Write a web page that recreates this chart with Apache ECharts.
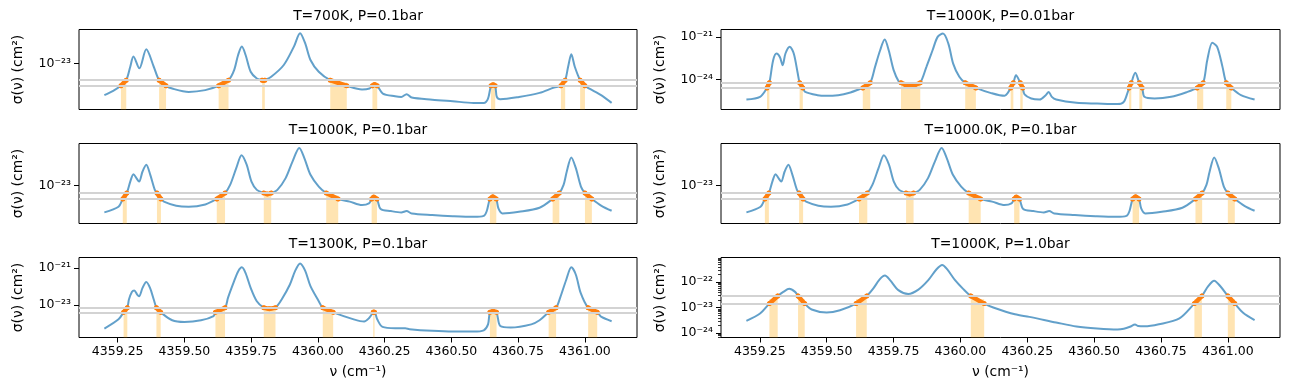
<!DOCTYPE html>
<html>
<head>
<meta charset="utf-8">
<script src="https://cdn.jsdelivr.net/npm/echarts@6/dist/echarts.min.js"></script>
<style>
html,body{margin:0;padding:0;background:#fff;}
#chart{width:1289px;height:390px;}
</style>
</head>
<body>
<div id="chart"></div>
<script>
// ---------------- data ----------------
const TITLES = ['T=700K, P=0.1bar', 'T=1000K, P=0.01bar', 'T=1000K, P=0.1bar',
                'T=1000.0K, P=0.1bar', 'T=1300K, P=0.1bar', 'T=1000K, P=1.0bar'];
const X_TICKS = [4359.25, 4359.50, 4359.75, 4360.00, 4360.25, 4360.50, 4360.75, 4361.00];
const X_RANGE = [4359.105, 4361.195];
const X_LABEL = 'ν (cm⁻¹)';
const Y_LABEL = 'σ(ν) (cm²)';

// Panel 1: T=700K, P=0.1bar  (log10 sigma)
const P1_NU = [4359.200,4359.233,4359.262,4359.282,4359.297,4359.309,4359.331,4359.357,4359.385,4359.405,
  4359.431,4359.454,4359.516,4359.578,4359.628,4359.665,4359.686,4359.701,4359.715,4359.729,
  4359.748,4359.771,4359.791,4359.796,4359.801,4359.825,4359.872,4359.910,4359.933,4359.952,
  4359.972,4360.003,4360.046,4360.108,4360.165,4360.193,4360.204,4360.212,4360.222,4360.243,
  4360.289,4360.312,4360.332,4360.351,4360.428,4360.505,4360.583,4360.621,4360.637,4360.648,
  4360.656,4360.664,4360.670,4360.683,4360.753,4360.830,4360.884,4360.910,4360.926,4360.937,
  4360.949,4360.962,4360.982,4361.000,4361.015,4361.062,4361.100];
const P1_LOGSIGMA = [-24.97,-24.70,-24.39,-24.04,-23.21,-22.58,-23.31,-22.13,-23.21,-24.04,
  -24.39,-24.56,-24.77,-24.66,-24.39,-24.04,-23.42,-22.48,-21.96,-22.48,
  -23.52,-23.94,-24.04,-24.06,-24.04,-23.83,-23.10,-21.96,-21.13,-21.75,
  -22.79,-23.52,-24.04,-24.39,-24.62,-24.56,-24.39,-24.31,-24.39,-24.87,
  -25.04,-25.08,-24.91,-25.12,-25.25,-25.35,-25.45,-25.45,-25.18,-24.39,
  -24.33,-24.39,-25.08,-25.22,-25.08,-24.83,-24.50,-24.39,-24.04,-23.21,
  -22.44,-23.21,-24.04,-24.39,-24.55,-24.98,-25.45];
const P1_BANDS = [[4359.262,4359.282],[4359.405,4359.431],[4359.628,4359.665],[4359.791,4359.801],
  [4360.046,4360.108],[4360.204,4360.222],[4360.648,4360.664],[4360.910,4360.926],[4360.982,4361.000]];
const P1_LIMITS = [-24.04, -24.39];
const P1_YRANGE = [-25.86, -20.90];
const P1_YTICKS = [-23];

// Panel 2: T=1000K, P=0.01bar
const P2_NU = [4359.200,4359.251,4359.277,4359.286,4359.300,4359.3125,4359.325,4359.3355,4359.346,4359.362,
  4359.377,4359.392,4359.399,4359.411,4359.420,4359.466,4359.497,4359.543,4359.589,4359.620,
  4359.635,4359.663,4359.681,4359.700,4359.717,4359.732,4359.7505,4359.770,4359.778,4359.795,
  4359.812,4359.830,4359.850,4359.873,4359.896,4359.915,4359.935,4359.955,4359.973,4359.996,
  4360.018,4360.058,4360.112,4360.165,4360.176,4360.188,4360.198,4360.208,4360.224,4360.233,
  4360.240,4360.265,4360.296,4360.319,4360.330,4360.342,4360.358,4360.434,4360.511,4360.588,
  4360.611,4360.626,4360.631,4360.639,4360.654,4360.669,4360.680,4360.688,4360.726,4360.788,
  4360.849,4360.885,4360.908,4360.923,4360.942,4360.960,4360.980,4360.994,4361.013,4361.049,
  4361.100];
const P2_LOGSIGMA = [-25.41,-25.22,-24.59,-24.23,-22.64,-22.17,-22.41,-22.99,-22.17,-21.70,
  -22.17,-23.58,-24.23,-24.59,-24.87,-25.10,-25.15,-25.10,-24.91,-24.70,
  -24.59,-24.23,-23.11,-21.94,-21.19,-21.94,-23.34,-24.16,-24.23,-24.36,
  -24.40,-24.36,-24.23,-23.11,-21.94,-21.00,-20.77,-21.47,-22.88,-23.81,
  -24.23,-24.59,-24.94,-25.15,-24.98,-24.59,-24.23,-23.70,-24.23,-24.59,
  -25.05,-25.34,-25.41,-25.10,-24.87,-25.22,-25.41,-25.64,-25.69,-25.73,
  -25.57,-24.87,-24.59,-24.23,-23.53,-24.23,-24.59,-25.22,-25.34,-25.22,
  -24.87,-24.59,-24.23,-22.64,-21.42,-21.70,-23.11,-24.23,-24.59,-25.10,
  -25.41];
const P2_BANDS = [[4359.277,4359.286],[4359.399,4359.411],[4359.635,4359.663],[4359.778,4359.850],
  [4360.018,4360.058],[4360.188,4360.198],[4360.224,4360.233],[4360.631,4360.639],[4360.669,4360.680],
  [4360.885,4360.908],[4360.994,4361.013]];
const P2_LIMITS = [-24.23, -24.59];
const P2_YRANGE = [-26.11, -20.48];
const P2_YTICKS = [-24, -21];

// Panel 3 and 4: T=1000K, P=0.1bar (identical curves)
const P3_NU = [4359.200,4359.253,4359.269,4359.284,4359.297,4359.309,4359.320,4359.330,4359.343,4359.357,
  4359.372,4359.389,4359.397,4359.412,4359.423,4359.469,4359.516,4359.578,4359.621,4359.652,
  4359.671,4359.694,4359.714,4359.733,4359.751,4359.771,4359.797,4359.810,4359.825,4359.848,
  4359.879,4359.905,4359.930,4359.949,4359.972,4360.003,4360.031,4360.076,4360.119,4360.165,
  4360.191,4360.201,4360.209,4360.221,4360.235,4360.273,4360.312,4360.332,4360.351,4360.428,
  4360.505,4360.583,4360.621,4360.632,4360.644,4360.655,4360.668,4360.676,4360.691,4360.753,
  4360.830,4360.879,4360.904,4360.920,4360.932,4360.949,4360.966,4360.985,4361.000,4361.026,
  4361.062,4361.100];
const P3_LOGSIGMA = [-24.62,-24.28,-23.81,-23.45,-22.76,-22.31,-22.55,-22.76,-22.15,-21.74,
  -22.35,-23.26,-23.45,-23.81,-23.97,-24.22,-24.28,-24.14,-23.81,-23.45,
  -22.96,-21.95,-21.17,-21.74,-22.76,-23.26,-23.45,-23.51,-23.45,-23.26,
  -22.55,-21.54,-20.73,-21.34,-22.35,-23.06,-23.45,-23.81,-23.97,-24.18,
  -24.08,-23.81,-23.69,-23.81,-24.42,-24.54,-24.62,-24.54,-24.68,-24.78,
  -24.85,-24.89,-24.83,-24.55,-23.81,-23.67,-23.81,-24.38,-24.68,-24.58,
  -24.34,-23.81,-23.45,-22.96,-22.15,-21.30,-21.95,-23.06,-23.45,-23.81,
  -24.22,-24.52];
const P3_BANDS = [[4359.269,4359.284],[4359.397,4359.412],[4359.621,4359.652],[4359.797,4359.825],
  [4360.031,4360.076],[4360.201,4360.221],[4360.644,4360.668],[4360.879,4360.904],[4361.000,4361.026]];
const P3_LIMITS = [-23.45, -23.81];
const P3_YRANGE = [-25.29, -20.46];
const P3_YTICKS = [-23];

// Panel 5: T=1300K, P=0.1bar
const P5_NU = [4359.200,4359.253,4359.272,4359.286,4359.292,4359.303,4359.312,4359.323,4359.330,4359.343,
  4359.357,4359.371,4359.385,4359.395,4359.411,4359.454,4359.500,4359.562,4359.609,4359.616,
  4359.652,4359.663,4359.686,4359.701,4359.715,4359.729,4359.748,4359.771,4359.797,4359.818,
  4359.841,4359.864,4359.895,4359.915,4359.933,4359.952,4359.972,4360.003,4360.018,4360.057,
  4360.134,4360.173,4360.191,4360.207,4360.209,4360.212,4360.222,4360.242,4360.289,4360.327,
  4360.343,4360.428,4360.505,4360.583,4360.621,4360.637,4360.644,4360.656,4360.669,4360.683,
  4360.722,4360.799,4360.830,4360.864,4360.892,4360.907,4360.930,4360.949,4360.966,4360.984,
  4361.012,4361.046,4361.062,4361.100];
const P5_LOGSIGMA = [-24.27,-23.77,-23.39,-23.14,-22.70,-22.29,-22.21,-22.43,-22.52,-22.07,
  -21.75,-22.07,-22.70,-23.14,-23.39,-23.82,-23.91,-23.82,-23.59,-23.39,
  -23.14,-22.61,-21.71,-21.18,-20.96,-21.27,-22.07,-22.79,-23.14,-23.20,
  -23.14,-22.70,-21.89,-21.14,-20.75,-21.14,-21.98,-22.79,-23.14,-23.39,
  -23.77,-23.89,-23.71,-23.39,-23.37,-23.39,-23.77,-24.18,-24.25,-24.25,
  -24.30,-24.39,-24.43,-24.43,-24.36,-24.04,-23.39,-23.33,-23.39,-24.13,
  -24.21,-24.04,-23.82,-23.39,-23.14,-22.61,-21.63,-20.96,-21.36,-22.34,
  -23.14,-23.39,-23.64,-23.87];
const P5_BANDS = [[4359.272,4359.286],[4359.395,4359.411],[4359.616,4359.652],[4359.797,4359.841],
  [4360.018,4360.057],[4360.207,4360.212],[4360.644,4360.669],[4360.864,4360.892],[4361.012,4361.046]];
const P5_LIMITS = [-23.14, -23.39];
const P5_YRANGE = [-24.75, -20.43];
const P5_YTICKS = [-23, -21];

// Panel 6: T=1000K, P=1.0bar
const P6_NU = [4359.200,4359.251,4359.286,4359.317,4359.338,4359.360,4359.382,4359.393,4359.418,4359.444,
  4359.500,4359.550,4359.610,4359.650,4359.674,4359.699,4359.718,4359.737,4359.768,4359.805,
  4359.843,4359.880,4359.911,4359.932,4359.951,4359.980,4360.011,4360.039,4360.089,4360.123,
  4360.204,4360.258,4360.358,4360.434,4360.511,4360.588,4360.611,4360.634,4360.653,4360.665,
  4360.688,4360.742,4360.819,4360.875,4360.903,4360.926,4360.949,4360.972,4361.000,4361.026,
  4361.057,4361.100];
const P6_LOGSIGMA = [-23.52,-23.23,-22.84,-22.54,-22.38,-22.26,-22.38,-22.54,-22.84,-23.07,
  -23.19,-23.10,-22.84,-22.54,-22.25,-21.88,-21.74,-21.92,-22.31,-22.46,
  -22.29,-21.92,-21.49,-21.32,-21.50,-21.92,-22.27,-22.54,-22.84,-22.99,
  -23.26,-23.36,-23.58,-23.74,-23.82,-23.86,-23.83,-23.75,-23.66,-23.72,
  -23.73,-23.65,-23.42,-22.84,-22.54,-22.16,-21.94,-22.16,-22.54,-22.84,
  -23.20,-23.49];
const P6_BANDS = [[4359.286,4359.317],[4359.393,4359.418],[4359.610,4359.650],[4360.039,4360.089],
  [4360.875,4360.903],[4361.000,4361.026]];
const P6_LIMITS = [-22.54, -22.84];
const P6_YRANGE = [-24.17, -21.03];
const P6_YTICKS = [-24, -23, -22];
const P6_MINOR_MANTISSA = [2, 3, 4, 5, 6, 7, 8, 9];

// ---------------- chart assembly ----------------
const PANELS = [
  {nu: P1_NU, ls: P1_LOGSIGMA, bands: P1_BANDS, lim: P1_LIMITS, yr: P1_YRANGE, yt: P1_YTICKS},
  {nu: P2_NU, ls: P2_LOGSIGMA, bands: P2_BANDS, lim: P2_LIMITS, yr: P2_YRANGE, yt: P2_YTICKS},
  {nu: P3_NU, ls: P3_LOGSIGMA, bands: P3_BANDS, lim: P3_LIMITS, yr: P3_YRANGE, yt: P3_YTICKS},
  {nu: P3_NU, ls: P3_LOGSIGMA, bands: P3_BANDS, lim: P3_LIMITS, yr: P3_YRANGE, yt: P3_YTICKS},
  {nu: P5_NU, ls: P5_LOGSIGMA, bands: P5_BANDS, lim: P5_LIMITS, yr: P5_YRANGE, yt: P5_YTICKS},
  {nu: P6_NU, ls: P6_LOGSIGMA, bands: P6_BANDS, lim: P6_LIMITS, yr: P6_YRANGE, yt: P6_YTICKS, minor: true}
];

const COL_LEFT = [79, 721];
const COL_WIDTH = [558, 559];
const ROW_TOP = [29.5, 143.5, 257.5];
const GRID_H = 80;
const FONT = 'DejaVu Sans';

const SUP = {'-': '⁻', '0': '⁰', '1': '¹', '2': '²', '3': '³', '4': '⁴', '5': '⁵', '6': '⁶', '7': '⁷', '8': '⁸', '9': '⁹'};
function powLabel(v) {
  return '10' + String(Math.round(v)).split('').map(c => SUP[c]).join('');
}

const grids = [], xAxes = [], yAxes = [], series = [], graphics = [];

PANELS.forEach((p, i) => {
  const row = Math.floor(i / 2), col = i % 2;
  const isBottom = row === 2;
  grids.push({left: COL_LEFT[col], top: ROW_TOP[row], width: COL_WIDTH[col], height: GRID_H,
    show: true, borderColor: '#000', borderWidth: 1, backgroundColor: 'transparent'});

  xAxes.push({
    type: 'value', gridIndex: i, min: X_RANGE[0], max: X_RANGE[1],
    axisLine: {show: false}, splitLine: {show: false},
    axisTick: {show: isBottom, length: 5, lineStyle: {color: '#000', width: 1}, customValues: X_TICKS},
    axisLabel: {show: isBottom, customValues: X_TICKS, margin: 8, color: '#000',
      fontFamily: FONT, fontSize: 12.5, formatter: v => v.toFixed(2)},
    name: isBottom ? X_LABEL : '', nameLocation: 'middle', nameGap: 28,
    nameTextStyle: {fontFamily: FONT, fontSize: 13.9, color: '#000'}
  });

  const yIdx = yAxes.length;
  yAxes.push({
    type: 'value', gridIndex: i, position: 'left', min: p.yr[0], max: p.yr[1],
    axisLine: {show: false}, splitLine: {show: false},
    axisTick: {show: true, length: 5, lineStyle: {color: '#000', width: 1}, customValues: p.yt},
    axisLabel: {show: true, customValues: p.yt, margin: 8, color: '#000',
      fontFamily: FONT, fontSize: 12.5, formatter: powLabel},
    name: Y_LABEL, nameLocation: 'middle', nameGap: 54,
    nameTextStyle: {fontFamily: FONT, fontSize: 13.9, color: '#000'}
  });
  if (p.minor) {
    const minors = [];
    for (let e = Math.floor(p.yr[0]) - 1; e <= Math.ceil(p.yr[1]); e++) {
      P6_MINOR_MANTISSA.forEach(m => {
        const v = e + Math.log10(m);
        if (v > p.yr[0] && v < p.yr[1]) minors.push(v);
      });
    }
    yAxes.push({
      type: 'value', gridIndex: i, position: 'left', offset: 0, min: p.yr[0], max: p.yr[1],
      axisLine: {show: false}, splitLine: {show: false},
      axisTick: {show: true, length: 3, lineStyle: {color: '#000', width: 0.8}, customValues: minors},
      axisLabel: {show: false, customValues: minors}
    });
  }

  const curve = p.nu.map((x, k) => [x, p.ls[k]]);
  const fillTop = Math.log10((Math.pow(10, p.lim[0]) + Math.pow(10, p.lim[1])) / 2);

  // helper series: bands + threshold lines (below the curve)
  series.push({
    type: 'line', xAxisIndex: i, yAxisIndex: yIdx, data: curve, silent: true, z: 1,
    lineStyle: {opacity: 0}, showSymbol: false, animation: false,
    markArea: {silent: true, itemStyle: {color: 'rgba(255,165,0,0.3)'},
      data: p.bands.map(b => [{xAxis: b[0], yAxis: p.yr[0]}, {xAxis: b[1], yAxis: fillTop}])},
    markLine: {silent: true, symbol: 'none', label: {show: false},
      lineStyle: {color: '#d3d3d3', width: 2, type: 'solid'},
      data: p.lim.map(v => ({yAxis: v}))}
  });

  // sigma curve
  series.push({
    type: 'line', xAxisIndex: i, yAxisIndex: yIdx, data: curve, z: 3,
    smooth: 0.3, showSymbol: false, animation: false, silent: true,
    lineStyle: {color: 'rgba(31,119,180,0.7)', width: 2}
  });

  // highlighted points (within thresholds)
  const hi = [];
  p.bands.forEach((b, bi) => {
    curve.forEach(pt => { if (pt[0] >= b[0] - 1e-9 && pt[0] <= b[1] + 1e-9) hi.push(pt); });
    if (bi < p.bands.length - 1) hi.push([b[1], '-']);
  });
  series.push({
    type: 'line', xAxisIndex: i, yAxisIndex: yIdx, data: hi, z: 4,
    smooth: 0.3, connectNulls: false, animation: false, silent: true,
    symbol: 'circle', symbolSize: 5, showSymbol: true,
    itemStyle: {color: '#ff7f0e'},
    lineStyle: {color: '#ff7f0e', width: 4.5, cap: 'round'}
  });

  graphics.push({
    type: 'text', x: COL_LEFT[col] + COL_WIDTH[col] / 2, y: ROW_TOP[row] - 13,
    style: {text: TITLES[i], fontFamily: FONT, fontSize: 13.9, fill: '#000',
      textAlign: 'center', textVerticalAlign: 'middle'}
  });
});

const chart = echarts.init(document.getElementById('chart'), null, {renderer: 'canvas'});
chart.setOption({
  animation: false,
  backgroundColor: '#fff',
  grid: grids, xAxis: xAxes, yAxis: yAxes, series: series, graphic: graphics
});
</script>
</body>
</html>
